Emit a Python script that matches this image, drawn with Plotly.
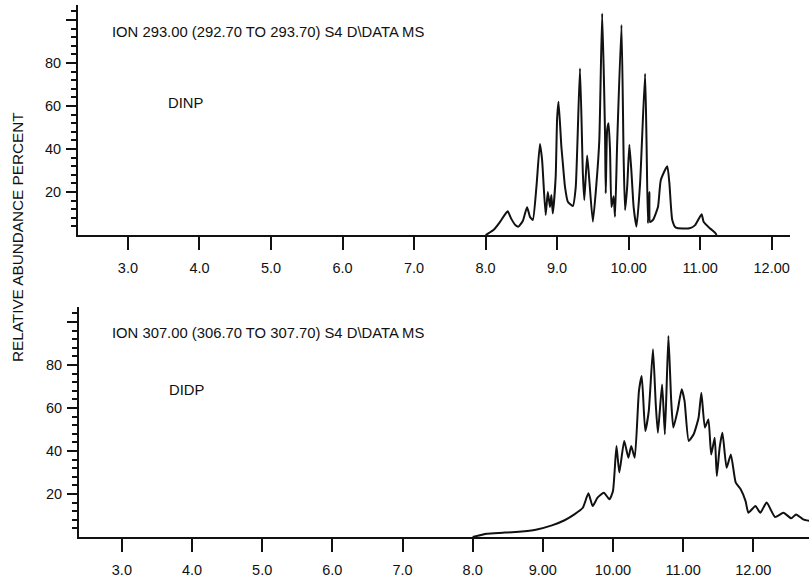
import plotly.graph_objects as go

# ---- data ----
dinp_time = [8.00, 8.05, 8.11, 8.20, 8.26, 8.31, 8.36, 8.42, 8.46, 8.52, 8.58, 8.62, 8.66, 8.71,
             8.76, 8.79, 8.84, 8.87, 8.90, 8.92, 8.94, 8.98, 9.00, 9.02, 9.06, 9.08, 9.11, 9.15,
             9.22, 9.26, 9.32, 9.36, 9.38, 9.42, 9.45, 9.50, 9.55, 9.59, 9.63, 9.67, 9.68, 9.70,
             9.72, 9.74, 9.76, 9.79, 9.81, 9.84, 9.90, 9.93, 9.95, 9.98, 10.01, 10.04, 10.07,
             10.11, 10.16, 10.23, 10.25, 10.27, 10.29, 10.30, 10.34, 10.41, 10.45, 10.54, 10.57,
             10.61, 10.66, 10.85, 10.93, 11.02, 11.05, 11.14, 11.21, 11.23]
dinp_abund = [0, 1, 2.3, 6, 9, 11, 7.5, 4.5, 3.9, 6.5, 12.9, 8.5, 7, 22,
              42.3, 35, 9.3, 20, 13, 18.6, 10, 27, 54, 62, 41, 33.5, 22.5, 15.5,
              13.5, 22, 77.5, 28.7, 16.3, 37, 25.6, 6.2, 24, 44, 103, 47, 19.4, 49,
              52, 39.5, 13, 18, 8.5, 43, 97.7, 36.4, 11.6, 22.5, 42, 29, 13,
              3.9, 24, 75, 44, 5.5, 20, 6, 7, 13, 25.6, 32, 24,
              7, 3.4, 3.1, 4.6, 9.6, 6, 3, 1, 0]

didp_time = [8.00, 8.20, 8.43, 8.66, 8.90, 9.13, 9.31, 9.45, 9.57, 9.65, 9.71, 9.78, 9.87, 9.95,
             10.00, 10.05, 10.09, 10.16, 10.22, 10.26, 10.31, 10.37, 10.41, 10.46, 10.51, 10.57,
             10.61, 10.64, 10.70, 10.74, 10.79, 10.83, 10.86, 10.92, 10.98, 11.02, 11.08, 11.15,
             11.22, 11.26, 11.31, 11.36, 11.40, 11.45, 11.48, 11.52, 11.56, 11.62, 11.68, 11.75,
             11.82, 11.89, 11.93, 12.03, 12.10, 12.19, 12.31, 12.43, 12.54, 12.61, 12.71, 12.80]
didp_abund = [0, 1.55, 2.0, 2.5, 3.4, 5.4, 7.8, 10.5, 13.6, 20.3, 14.4, 18.3, 20.6, 17.5,
              21.4, 42.3, 30, 44.7, 36.9, 42.3, 36.9, 67.9, 74.9, 49.3, 58.6, 87.3,
              61.7, 48.5, 71, 47.8, 93.5, 63.3, 50.9, 58.6, 68.7, 63.3, 44.7, 47.8,
              55.5, 67.1, 50.9, 54.7, 38.4, 46.2, 28.4, 41.5, 48.5, 32.2, 38.4, 25.3,
              22.2, 16.7, 11.3, 14.4, 11.3, 16, 9.3, 11.3, 8.7, 10.5, 8.2, 7.5]

x_ticks = [3, 4, 5, 6, 7, 8, 9, 10, 11, 12]
x_labels_top = ["3.0", "4.0", "5.0", "6.0", "7.0", "8.0", "9.0", "10.00", "11.00", "12.00"]
x_labels_bottom = ["3.0", "4.0", "5.0", "6.0", "7.0", "8.0", "9.00", "10.00", "11.00", "12.00"]
y_ticks = [20, 40, 60, 80, 100]
y_labels = ["20", "40", "60", "80", ""]

top_text = "ION 293.00 (292.70 TO 293.70) S4 D\\DATA MS"
bottom_text = "ION 307.00 (306.70 TO 307.70) S4 D\\DATA MS"
y_title = "RELATIVE ABUNDANCE PERCENT"

# ---- figure ----
W, H = 809, 581
FONT = "Liberation Sans, Arial, Helvetica, sans-serif"
INK = "#111111"

fig = go.Figure()
for xs, ys, xa, ya in [(dinp_time, dinp_abund, "x", "y"), (didp_time, didp_abund, "x2", "y2")]:
    fig.add_trace(go.Scatter(x=xs, y=ys, mode="lines",
                             line=dict(color=INK, width=2, shape="spline", smoothing=0.5),
                             xaxis=xa, yaxis=ya, showlegend=False, hoverinfo="skip"))

minor_vals = [v for v in range(4, 108, 4) if v % 20 != 0]

def xaxis_style(labels, rng, domain, anchor):
    return dict(domain=domain, range=rng, anchor=anchor, automargin=False,
                showgrid=False, zeroline=False,
                showline=True, linecolor=INK, linewidth=2,
                tickmode="array", tickvals=x_ticks, ticktext=labels,
                ticks="outside", ticklen=13, tickwidth=2, tickcolor=INK,
                ticklabelstandoff=6,
                tickfont=dict(family=FONT, size=14.5, color=INK))

def yaxis_style(domain, anchor):
    return dict(domain=domain, range=[0, 107], anchor=anchor, automargin=False,
                showgrid=False, zeroline=False,
                showline=True, linecolor=INK, linewidth=2,
                tickmode="array", tickvals=y_ticks, ticktext=y_labels,
                ticks="outside", ticklen=10, tickwidth=2, tickcolor=INK,
                ticklabelstandoff=2,
                minor=dict(tickmode="array", tickvals=minor_vals, ticks="outside",
                           ticklen=5, tickwidth=1.5, tickcolor=INK, showgrid=False),
                tickfont=dict(family=FONT, size=14.5, color=INK))

fig.update_layout(
    width=W, height=H,
    margin=dict(l=0, r=0, t=0, b=0, autoexpand=False),
    paper_bgcolor="white", plot_bgcolor="white",
    xaxis=xaxis_style(x_labels_top, [2.302, 12.256], [78 / W, 790 / W], "y"),
    yaxis=yaxis_style([1 - 235 / H, 1 - 5 / H], "x"),
    xaxis2=xaxis_style(x_labels_bottom, [2.389, 12.794], [79 / W, 1.0], "y2"),
    yaxis2=yaxis_style([1 - 537 / H, 1 - 307 / H], "x2"),
    font=dict(family=FONT, color=INK),
)

def ann(text, px, py, angle=0, xanchor="left", size=14.8):
    return dict(text=text, x=px / W, y=1 - py / H, xref="paper", yref="paper",
                xanchor=xanchor, yanchor="middle", showarrow=False, textangle=angle,
                font=dict(family=FONT, size=size, color=INK))

fig.update_layout(annotations=[
    ann(top_text, 110, 32),
    ann("DINP", 166, 103),
    ann(bottom_text, 110, 333),
    ann("DIDP", 167, 390),
    ann(y_title, 17, 237, angle=-90, xanchor="center", size=15.3),
])

fig.write_html("out.html", config={"displayModeBar": False},
               post_script="document.body.style.margin='0';document.body.style.padding='0';")
